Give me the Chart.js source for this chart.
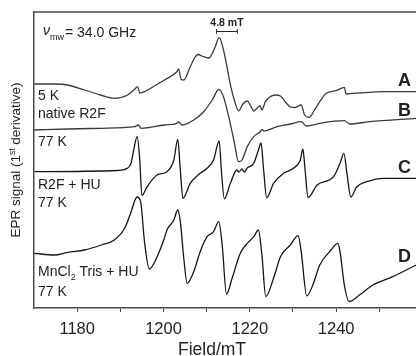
<!DOCTYPE html>
<html>
<head>
<meta charset="utf-8">
<script src="https://cdn.jsdelivr.net/npm/chart.js@4.4.1/dist/chart.umd.min.js"></script>
<style>
  body { margin: 0; background: #fff; }
  canvas { display: block; }
</style>
</head>
<body>
<canvas id="eprChart" width="416" height="356"></canvas>
<script>
// magnetic field (mT) and signal (arbitrary, stacked offsets) for each trace
const fieldA = [1170.1,1175.0,1177.8,1181.7,1185.4,1188.6,1191.7,1193.3,1194.0,1194.5,1195.6,1197.9,1200.2,1203.1,1203.5,1204.1,1204.7,1206.2,1207.4,1208.1,1208.9,1210.5,1212.0,1212.9,1213.9,1214.7,1215.6,1216.4,1217.4,1218.4,1219.4,1220.3,1220.9,1221.7,1222.4,1222.8,1223.6,1224.7,1225.9,1227.1,1228.2,1229.4,1230.5,1231.9,1232.7,1233.8,1235.0,1236.2,1237.7,1240.0,1241.9,1242.3,1243.9,1247.7,1251.6,1258.5];
const signalA = [224,224,223,218,213,209.7,213,218.7,221.3,215,216.3,222,228,236.3,239,228.5,228,241.3,251.3,253.5,252,250,261.3,270.7,258,241.3,221.3,208,197,204,207,201.3,197,200,202,198,206.3,211.3,213,212,206.3,201,200.5,203,193,190.7,198,206.3,214.7,217.3,220.7,214,214.7,215.7,216.3,216.3];

const fieldB = [1170.1,1177.8,1185.6,1193.3,1194.2,1194.8,1200.2,1203.1,1203.5,1204.3,1207.0,1209.3,1211.3,1212.8,1213.9,1215.1,1216.3,1217.4,1218.2,1219.4,1220.9,1222.4,1222.8,1223.2,1226.3,1229.4,1231.9,1233.1,1236.2,1241.9,1243.1,1247.7,1258.5];
const signalB = [178,179,179.7,181.3,183,179.7,183,184.7,186,183,188,196.3,208,218.7,211.3,191.3,168,146.3,148,161.3,171.3,176.3,178.7,177,181.3,184,186.3,182,184.7,187.3,184,186.3,189.7];

const fieldC = [1170.1,1189.4,1191.6,1192.5,1193.1,1193.9,1194.5,1195.0,1196.2,1198.5,1200.8,1202.4,1203.3,1203.9,1204.5,1206.2,1208.5,1210.1,1211.6,1212.9,1213.4,1214.1,1215.5,1217.0,1217.5,1218.2,1218.7,1219.4,1220.9,1222.0,1222.6,1223.2,1223.9,1225.5,1227.8,1230.1,1231.7,1232.3,1232.8,1233.5,1235.6,1239.4,1240.9,1241.8,1242.5,1243.4,1244.8,1247.1,1251.0,1258.5];
const signalC = [136.3,137.5,139.7,145,158,171.3,148,112.5,121.3,133,136.3,148,168.7,138,109.7,124.7,134.7,139.7,148,167,138,109.2,124.7,138,136,139,136,140,144.7,158,165,138,110.2,124.7,134.7,139.7,148,159,138,110.5,123,131.3,144.7,154.7,134.7,111,121.3,126.3,129.7,129.7];

const fieldD = [1170.1,1174.7,1177.8,1181.7,1185.6,1188.6,1191.0,1192.5,1193.4,1193.9,1194.7,1195.6,1196.7,1198.7,1200.2,1200.8,1202.4,1203.3,1203.9,1204.7,1205.5,1207.0,1208.5,1210.1,1211.6,1212.8,1213.6,1214.6,1215.9,1217.8,1219.4,1220.9,1222.0,1222.8,1223.7,1225.5,1227.1,1229.4,1231.2,1231.9,1233.2,1234.6,1236.2,1238.5,1240.4,1240.9,1241.9,1243.0,1245.4,1248.5,1253.1,1258.5];
const signalD = [54.7,53,55.7,58,63,68,79.7,96.3,108,111,106.3,66.3,39,53,69.7,78,88,98,86.3,49.7,24.7,36.3,56.3,71.3,76.3,86.3,63,14,29.7,54.7,64.7,71.3,78,53,11.3,29.7,51.3,63,72.3,56.3,12,23,43,56.3,64.7,56.3,23,6.5,13,23,31.3,43];

const xTicks = [1180, 1190, 1200, 1210, 1220, 1230, 1240, 1250];
const xLabels = [1180, 1200, 1220, 1240];
const scaleBarStart = 1212.3;
const scaleBarLength = 4.8;

const axisColor = '#4a4a4a';
const textColor = '#222';
const font = '"Liberation Sans", Arial, sans-serif';

function toPoints(xs, ys) {
  return xs.map((v, i) => ({ x: v, y: ys[i] }));
}

function trace(label, xs, ys, color) {
  return {
    label: label,
    data: toPoints(xs, ys),
    borderColor: color,
    borderWidth: 1.3,
    pointRadius: 0,
    cubicInterpolationMode: 'monotone',
    fill: false
  };
}

const annotate = {
  id: 'annotate',
  afterDraw(chart) {
    const { ctx, chartArea: a, scales: { x } } = chart;
    ctx.save();

    // top frame
    ctx.strokeStyle = axisColor;
    ctx.lineWidth = 1.5;
    ctx.beginPath();
    ctx.moveTo(a.left - 0.75, a.top);
    ctx.lineTo(a.right, a.top);
    ctx.stroke();

    ctx.fillStyle = textColor;
    ctx.textAlign = 'left';
    ctx.textBaseline = 'alphabetic';

    // microwave frequency
    ctx.font = 'italic 14px ' + font;
    ctx.fillText('ν', 43, 35);
    ctx.font = '9px ' + font;
    ctx.fillText('mw', 50, 40);
    ctx.font = '14px ' + font;
    ctx.fillText('= 34.0 GHz', 65, 37);

    // left labels
    ctx.fillText('5 K', 38, 100);
    ctx.fillText('native R2F', 38, 118);
    ctx.fillText('77 K', 38, 146);
    ctx.fillText('R2F + HU', 38, 189);
    ctx.fillText('77 K', 38, 207);
    const mn = 'MnCl';
    ctx.fillText(mn, 38, 276);
    let w = ctx.measureText(mn).width;
    ctx.font = '9px ' + font;
    ctx.fillText('2', 38 + w, 280);
    const w2 = ctx.measureText('2').width;
    ctx.font = '14px ' + font;
    ctx.fillText(' Tris + HU', 38 + w + w2, 276);
    ctx.fillText('77 K', 38, 296);

    // trace letters
    ctx.font = 'bold 18px ' + font;
    ctx.textAlign = 'right';
    ctx.fillText('A', 411, 86);
    ctx.fillText('B', 411, 116);
    ctx.fillText('C', 411, 173);
    ctx.fillText('D', 411, 262);

    // scale bar
    const x0 = x.getPixelForValue(scaleBarStart);
    const x1 = x.getPixelForValue(scaleBarStart + scaleBarLength);
    ctx.strokeStyle = textColor;
    ctx.lineWidth = 1;
    ctx.beginPath();
    ctx.moveTo(x0, 31.5); ctx.lineTo(x1, 31.5);
    ctx.moveTo(x0, 29); ctx.lineTo(x0, 34);
    ctx.moveTo(x1, 29); ctx.lineTo(x1, 34);
    ctx.stroke();
    ctx.font = 'bold 10.5px ' + font;
    ctx.textAlign = 'center';
    ctx.fillText(scaleBarLength + ' mT', (x0 + x1) / 2, 26);

    // x title
    ctx.font = '17.5px ' + font;
    ctx.fillText('Field/mT', 212, 355);

    // y title with superscript
    ctx.translate(20, (a.top + a.bottom) / 2);
    ctx.rotate(-Math.PI / 2);
    ctx.textAlign = 'left';
    const p1 = 'EPR signal (1', sup = 'st', p2 = ' derivative)';
    ctx.font = '13.5px ' + font;
    const w1 = ctx.measureText(p1).width;
    const w3 = ctx.measureText(p2).width;
    ctx.font = '8.5px ' + font;
    const ws = ctx.measureText(sup).width;
    let start = -(w1 + ws + w3) / 2;
    ctx.font = '13.5px ' + font;
    ctx.fillText(p1, start, 0);
    ctx.font = '8.5px ' + font;
    ctx.fillText(sup, start + w1, -5);
    ctx.font = '13.5px ' + font;
    ctx.fillText(p2, start + w1 + ws, 0);

    ctx.restore();
  }
};

new Chart(document.getElementById('eprChart'), {
  type: 'line',
  data: {
    datasets: [
      trace('A', fieldA, signalA, '#3a3a3a'),
      trace('B', fieldB, signalB, '#3a3a3a'),
      trace('C', fieldC, signalC, '#151515'),
      trace('D', fieldD, signalD, '#151515')
    ]
  },
  options: {
    responsive: false,
    animation: false,
    layout: { padding: { top: 12, right: 0, left: 0, bottom: 0 } },
    plugins: { legend: { display: false }, tooltip: { enabled: false } },
    scales: {
      x: {
        type: 'linear',
        min: 1170,
        max: 1258.5,
        afterBuildTicks: s => { s.ticks = xTicks.map(v => ({ value: v })); },
        afterFit: s => { s.height = 48; },
        grid: { display: true, drawOnChartArea: false, drawTicks: true, tickLength: 4, color: axisColor, lineWidth: 1 },
        border: { display: true, color: axisColor, width: 1.5 },
        ticks: {
          autoSkip: false,
          maxRotation: 0,
          padding: 8,
          color: textColor,
          font: { family: font, size: 16.5 },
          callback: v => xLabels.includes(v) ? String(v) : ''
        }
      },
      y: {
        min: 0,
        max: 296,
        afterFit: s => { s.width = 34; },
        grid: { display: false },
        border: { display: true, color: axisColor, width: 1.5 },
        ticks: { display: false }
      }
    }
  },
  plugins: [annotate]
});
</script>
</body>
</html>
